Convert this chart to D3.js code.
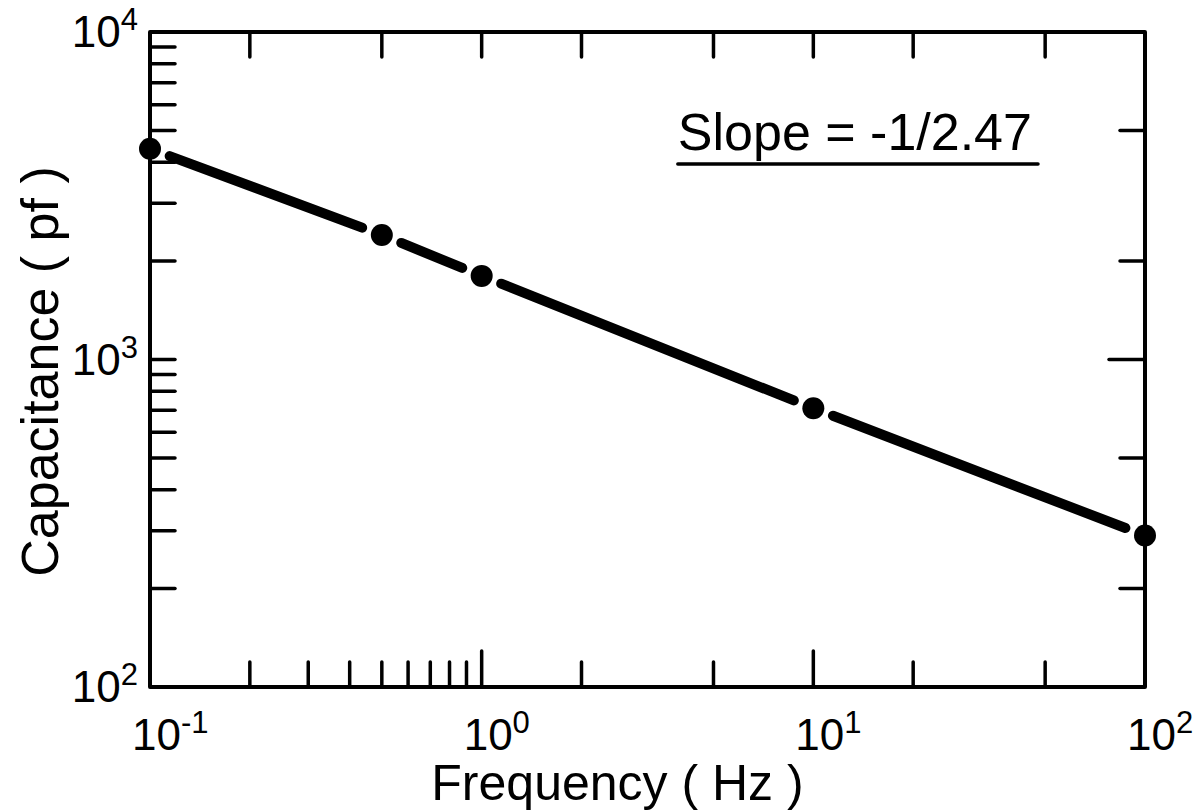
<!DOCTYPE html>
<html>
<head>
<meta charset="utf-8">
<script src="https://cdn.jsdelivr.net/npm/d3@7"></script>
<style>
  body { margin: 0; background: #fff; }
  text { font-family: "Liberation Sans", Arial, sans-serif; fill: #000; }
</style>
</head>
<body>
<div id="graphe"></div>
<script>
// données
const frequences = [0.1, 0.5, 1, 10, 100];
const capacites = [4400, 2400, 1800, 710, 290];

const xDecades = [0.1, 1, 10, 100];
const xExposants = ["-1", "0", "1", "2"];
const yDecades = [100, 1000, 10000];
const yExposants = ["2", "3", "4"];

const xTicksBas = [0.2, 0.3, 0.4, 0.5, 0.6, 0.7, 0.8, 0.9, 2, 5, 20, 50];
const xTicksBasLongs = [1, 10];
const xTicksHaut = [0.2, 0.5, 1, 2, 5, 10, 20, 50];
const yTicksGauche = [200, 300, 400, 500, 600, 700, 800, 900, 1000,
                      2000, 3000, 4000, 5000, 6000, 7000, 8000, 9000];
const yTicksDroite = [200, 500, 2000, 5000];
const yTicksDroiteLongs = [1000];

const titreX = "Frequency ( Hz )";
const titreY = "Capacitance ( pf )";
const pente = "Slope = -1/2.47";

var width = 1199, height = 811;
var margin = {left: 150, right: 54, top: 32, bottom: 124};
var tick = 25, tickLong = 36;

var svg = d3.select("#graphe").append("svg")
    .attr("width", width).attr("height", height);

var x = d3.scaleLog().domain([0.1, 100]).range([margin.left, width - margin.right]);
var y = d3.scaleLog().domain([100, 10000]).range([height - margin.bottom, margin.top]);

var x0 = x.range()[0], x1 = x.range()[1];
var y0 = y.range()[0], y1 = y.range()[1];

var g = svg.append("g")
    .attr("stroke", "#000").attr("stroke-linecap", "round");

// cadre
g.append("rect")
    .attr("x", x0).attr("y", y1)
    .attr("width", x1 - x0).attr("height", y0 - y1)
    .attr("fill", "none").attr("stroke-width", 4)
    .attr("stroke-linejoin", "round");

// graduations
function traits(data, fn) {
    g.append("g").attr("stroke-width", 3.5)
        .selectAll("line").data(data).enter().append("line")
        .each(function(d) { d3.select(this).attr("x1", fn(d)[0]).attr("y1", fn(d)[1])
            .attr("x2", fn(d)[2]).attr("y2", fn(d)[3]); });
}
traits(xTicksBas, d => [x(d), y0, x(d), y0 - tick]);
traits(xTicksBasLongs, d => [x(d), y0, x(d), y0 - tickLong]);
traits(xTicksHaut, d => [x(d), y1, x(d), y1 + tick]);
traits(yTicksGauche, d => [x0, y(d), x0 + tick, y(d)]);
traits(yTicksDroite, d => [x1, y(d), x1 - tick, y(d)]);
traits(yTicksDroiteLongs, d => [x1, y(d), x1 - tickLong, y(d)]);

// étiquettes des axes (puissances de 10)
var lx = svg.append("g").selectAll("text").data(xDecades).enter().append("text")
    .attr("x", d => x(d) - 18).attr("y", y0 + 63)
    .attr("font-size", 44);
lx.append("tspan").text("10");
lx.append("tspan").attr("font-size", 31).attr("dy", -17)
    .text((d, i) => xExposants[i]);

var ly = svg.append("g").selectAll("text").data(yDecades).enter().append("text")
    .attr("x", x0 - 12).attr("y", d => y(d) + 15)
    .attr("text-anchor", "end").attr("font-size", 44);
ly.append("tspan").text("10");
ly.append("tspan").attr("font-size", 31).attr("dy", -17)
    .text((d, i) => yExposants[i]);

svg.append("text")
    .attr("x", (x0 + x1) / 2 - 30).attr("y", 800)
    .attr("text-anchor", "middle").attr("font-size", 50)
    .text(titreX);

svg.append("text")
    .attr("transform", "translate(58," + ((y0 + y1) / 2 + 12) + ") rotate(-90)")
    .attr("text-anchor", "middle").attr("font-size", 52)
    .text(titreY);

// pente
var tp = svg.append("text")
    .attr("x", x(0.5) + 296).attr("y", 150)
    .attr("font-size", 52)
    .text(pente);
var bb = tp.node().getBBox();
g.append("line").attr("stroke-width", 3.5)
    .attr("x1", bb.x).attr("x2", bb.x + bb.width + 6)
    .attr("y1", 164).attr("y2", 164);

// droite brisée entre les points
var pts = frequences.map((f, i) => [x(f), y(capacites[i])]);
var coupe = 21;
var segs = d3.pairs(pts).map(function(p) {
    var dx = p[1][0] - p[0][0], dy = p[1][1] - p[0][1];
    var l = Math.sqrt(dx * dx + dy * dy);
    var ux = dx / l, uy = dy / l;
    return [[p[0][0] + ux * coupe, p[0][1] + uy * coupe],
            [p[1][0] - ux * coupe, p[1][1] - uy * coupe]];
});
svg.append("g").selectAll("path").data(segs).enter().append("path")
    .attr("d", d3.line())
    .attr("stroke", "#000").attr("stroke-width", 10)
    .attr("stroke-linecap", "round").attr("fill", "none");

svg.append("g").selectAll("circle").data(pts).enter().append("circle")
    .attr("cx", d => d[0]).attr("cy", d => d[1]).attr("r", 11)
    .attr("fill", "#000");
</script>
</body>
</html>
